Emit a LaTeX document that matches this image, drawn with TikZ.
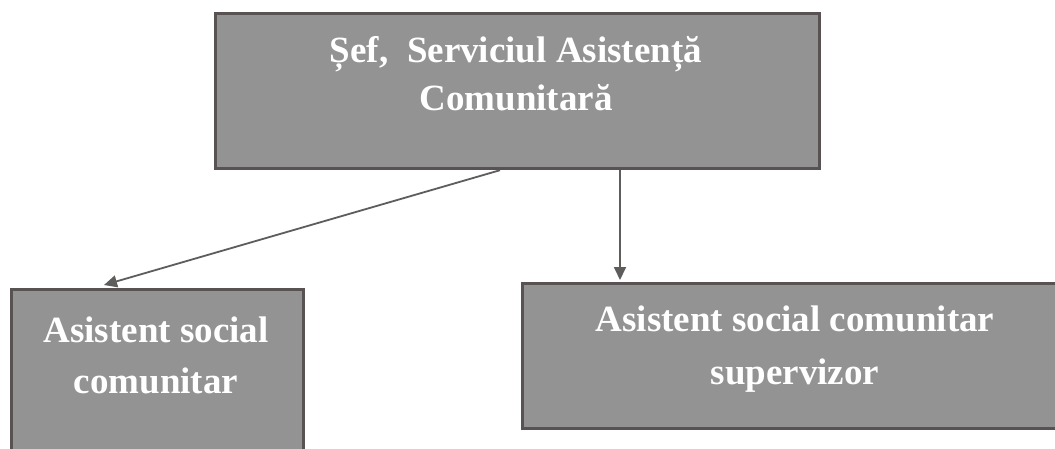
\documentclass[tikz,border=0pt]{standalone}
\usepackage{fontspec}
\setmainfont{Liberation Serif}
\usetikzlibrary{arrows.meta}
\definecolor{boxfill}{RGB}{148,147,147}
\definecolor{boxline}{RGB}{88,82,82}
\definecolor{arrcol}{RGB}{95,92,92}
\tikzset{
  box/.style={draw=boxline, line width=3.2pt, fill=boxfill, rectangle, inner sep=0pt, anchor=north west},
  lbl/.style={text=white, font=\fontsize{37}{50}\selectfont\bfseries, anchor=base, inner sep=0pt},
  arr/.style={draw=arrcol, line width=1.8pt, -{Triangle[length=13pt,width=12pt]}}
}
\begin{document}
\begin{tikzpicture}[x=1pt,y=-1pt]
\useasboundingbox (0,0) rectangle (1055,448);
\fill[white] (0,0) rectangle (1055,448);
% boxes
\node[box, minimum width=604pt, minimum height=155pt] (top) at (214,12) {};
\node[box, minimum width=292pt, minimum height=190pt] (left) at (10,288) {};
\node[box, minimum width=548pt, minimum height=145pt] (right) at (521,282) {};
% texts
\node[lbl] (t1) at (516,62) {Șef,\ \ Serviciul Asistență};
\node[lbl] (t2) at (516,110) {Comunitară};
\node[lbl] (l1) at (156,342) {Asistent social};
\node[lbl] (l2) at (156,393) {comunitar};
\node[lbl] (r1) at (795,331) {Asistent social comunitar};
\node[lbl] (r2) at (795,384) {supervizor};
% connector ends
\coordinate (s1) at ([xshift=286pt]top.south west);
\coordinate (s2) at ([xshift=406pt]top.south west);
\coordinate (e1) at ([xshift=94pt,yshift=3pt]left.north west);
\coordinate (e2) at ([xshift=99pt,yshift=2pt]right.north west);
\draw[arr] (s1) -- (e1);
\draw[arr] (s2) -- (e2);
\end{tikzpicture}
\end{document}
